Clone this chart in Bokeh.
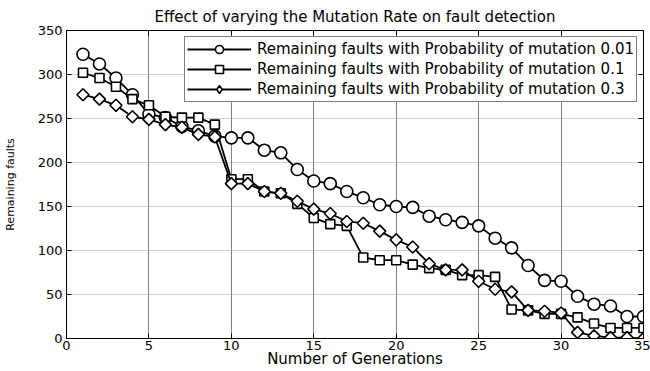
import math

from bokeh.plotting import figure
from bokeh.models import LinearAxis, Legend, LegendItem, FixedTicker, Range1d
from bokeh.embed import file_html
from bokeh.resources import INLINE

# Remaining faults per generation for three mutation probabilities
generations = list(range(1, 36))
faults_p001 = [323, 312, 296, 277, 255, 251, 241, 236, 230, 228, 228, 214, 211, 192, 179,
               176, 167, 160, 152, 150, 149, 139, 135, 132, 128, 114, 103, 83, 66, 65,
               48, 39, 37, 25, 25]
faults_p01 = [302, 296, 286, 272, 265, 252, 251, 251, 243, 181, 181, 167, 165, 153, 137,
              130, 128, 92, 89, 89, 84, 80, 78, 72, 72, 70, 33, 32, 28, 28,
              24, 17, 12, 12, 12]
faults_p03 = [277, 272, 265, 252, 249, 243, 240, 232, 229, 176, 176, 167, 165, 156, 147,
              142, 133, 131, 122, 112, 104, 85, 78, 78, 65, 56, 53, 32, 31, 29,
              7, 3, 1, 1, 0]

series_labels = [
    "Remaining faults with Probability of mutation 0.01",
    "Remaining faults with Probability of mutation 0.1",
    "Remaining faults with Probability of mutation 0.3",
]
x_ticks = [0, 5, 10, 15, 20, 25, 30, 35]
y_ticks = [0, 50, 100, 150, 200, 250, 300, 350]

FONT = "DejaVu Sans"

p = figure(
    width=650, height=371,
    output_backend="svg", toolbar_location=None,
    x_range=Range1d(0, 35), y_range=Range1d(0, 350),
    min_border_left=66, min_border_right=7, min_border_top=30, min_border_bottom=33,
    title="Effect of varying the Mutation Rate on fault detection",
    x_axis_label="Number of Generations", y_axis_label="Remaining faults",
)
p.background_fill_color = "white"
p.border_fill_color = "white"
p.outline_line_color = "black"
p.outline_line_width = 1

p.title.align = "center"
p.title.text_font = FONT
p.title.text_font_size = "15px"
p.title.text_font_style = "normal"
p.title.text_color = "black"
p.title.standoff = 10

# boxed axes with inward ticks on every side
for ax in (p.xaxis[0], p.yaxis[0]):
    ax.major_tick_in = 5
    ax.major_tick_out = 0
    ax.minor_tick_line_color = None
    ax.axis_line_color = "black"
    ax.major_tick_line_color = "black"
    ax.major_label_text_font = FONT
    ax.major_label_text_font_size = "13px"
    ax.major_label_text_color = "black"
    ax.axis_label_text_font = FONT
    ax.axis_label_text_font_style = "normal"
    ax.axis_label_text_color = "black"

p.xaxis.ticker = FixedTicker(ticks=x_ticks)
p.yaxis.ticker = FixedTicker(ticks=y_ticks)
p.xaxis.major_label_standoff = 2
p.xaxis.axis_label_standoff = -3
p.xaxis.axis_label_text_font_size = "15px"
p.yaxis.major_label_standoff = 4
p.yaxis.axis_label_standoff = 18
p.yaxis.axis_label_text_font_size = "11px"

for side, ticks in (("above", x_ticks), ("right", y_ticks)):
    ax = LinearAxis(ticker=FixedTicker(ticks=ticks))
    ax.major_tick_in = 5
    ax.major_tick_out = 0
    ax.minor_tick_line_color = None
    ax.major_label_text_font_size = "0px"
    ax.major_label_standoff = 0
    ax.axis_line_color = "black"
    p.add_layout(ax, side)

p.xgrid.ticker = FixedTicker(ticks=x_ticks)
p.ygrid.ticker = FixedTicker(ticks=y_ticks)
p.xgrid.grid_line_color = "#808080"
p.xgrid.grid_line_width = 1
p.ygrid.grid_line_color = "#a0a0a0"
p.ygrid.grid_line_dash = "1 1"

style = dict(fill_color="white", line_color="black", line_width=1.6)

# 0.01: circles
ln1 = p.line(generations, faults_p001, line_color="black", line_width=1.8)
sc1 = p.scatter(generations, faults_p001, marker="circle", size=12, **style)

# 0.1: squares
ln2 = p.line(generations, faults_p01, line_color="black", line_width=1.8)
sc2 = p.scatter(generations, faults_p01, marker="square", size=9, **style)

# 0.3: diamonds drawn as rotated squares; the narrower diamond underneath
# serves as the legend key, since legend glyphs are drawn unrotated
ln3 = p.line(generations, faults_p03, line_color="black", line_width=1.8)
key3 = p.scatter(generations, faults_p03, marker="diamond", size=10, **style)
sc3 = p.scatter(generations, faults_p03, marker="square", size=8.5,
                angle=math.pi / 4, **style)

items = [
    LegendItem(label=series_labels[0], renderers=[ln1, sc1]),
    LegendItem(label=series_labels[1], renderers=[ln2, sc2]),
    LegendItem(label=series_labels[2], renderers=[ln3, key3]),
]

legend = Legend(
    items=items, location="top_right",
    margin=6, padding=2, spacing=0,
    glyph_width=64, glyph_height=20, label_height=17, label_standoff=6,
    label_text_font=FONT, label_text_font_size="15px", label_text_color="black",
    border_line_color="black", border_line_width=1,
    background_fill_color="white", background_fill_alpha=1.0,
)
p.add_layout(legend)

open("out.html", "w").write(file_html(p, INLINE))
